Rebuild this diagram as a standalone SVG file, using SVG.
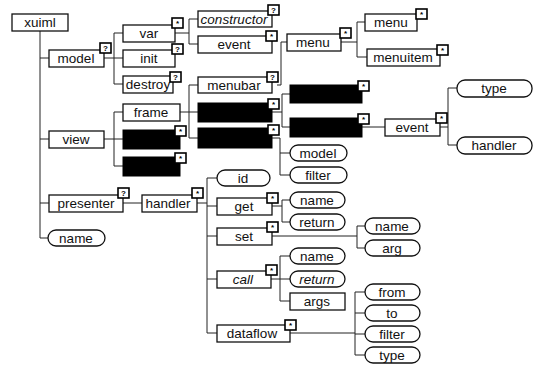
<svg xmlns="http://www.w3.org/2000/svg" width="534" height="372" viewBox="0 0 534 372">
<style>
.b{fill:#fff;stroke:#111;stroke-width:1.3}
.k{fill:#000;stroke:#000;stroke-width:1}
.t{font-family:"Liberation Sans",Arial,Helvetica,sans-serif;font-size:13.5px;fill:#111;text-anchor:middle}
.i{font-style:italic}
.bd{fill:#fff;stroke:#000;stroke-width:1.6}
.bt{font-family:"Liberation Sans",Arial,sans-serif;font-size:8px;font-weight:bold;fill:#000;text-anchor:middle}
.c{fill:none;stroke:#222;stroke-width:1}
</style>
<rect width="534" height="372" fill="#fff"/>
<g id="connectors" class="c">
<path d="M40 31V238M40 58H49M40 139H49M40 203H49M40 238H48"/>
<path d="M104 58H114M114 33V84M114 33H123M114 58H123M114 84H123"/>
<path d="M104 139H114M114 112V166M114 112H123M114 139H123M114 166H123"/>
<path d="M175 33H189M189 19V44M189 19H198M189 44H198"/>
<path d="M180 112H189M189 85V138M189 85H198M189 112H198M189 138H198"/>
<path d="M123 203H142"/>
<path d="M197 203H207M207 178V333M207 178H217M207 206H217M207 236H217M207 279H217M207 333H217"/>
<path d="M277 85H281V42H287"/>
<path d="M272 112H282M282 94V127M282 94H290M282 127H290"/>
<path d="M272 138H280V175H290M280 153H290"/>
<path d="M341 42H357M357 22V57M357 22H365M357 57H367"/>
<path d="M362 127H385"/>
<path d="M440 127H448M448 88V145M448 88H457M448 145H457"/>
<path d="M272 206H282M282 200V222M282 200H290M282 222H290"/>
<path d="M272 236H357M357 226V248M357 226H365M357 248H365"/>
<path d="M271 279H280M280 256V301M280 256H290M280 279H290M280 301H290"/>
<path d="M290 333H355M355 292V355M355 292H365M355 313H365M355 334H365M355 355H365"/>
</g>
<g id="xuiml"><rect class="b" x="12" y="14" width="56" height="17"/><text class="t" x="40" y="27">xuiml</text></g>
<g id="model"><rect class="b" x="49" y="50" width="55" height="17"/><text class="t" x="76" y="63">model</text><rect class="bd" x="100" y="43" width="11" height="10"/><text class="bt" x="105.5" y="51">?</text></g>
<g id="view"><rect class="b" x="49" y="131" width="55" height="17"/><text class="t" x="76" y="144">view</text></g>
<g id="presenter"><rect class="b" x="49" y="195" width="74" height="17"/><text class="t" x="86" y="208">presenter</text><rect class="bd" x="118" y="188" width="11" height="10"/><text class="bt" x="123.5" y="196">?</text></g>
<g id="name"><rect class="b" x="48" y="230" width="57" height="16" rx="8"/><text class="t" x="76" y="243">name</text></g>
<g id="var"><rect class="b" x="123" y="25" width="52" height="17"/><text class="t" x="149" y="38">var</text><rect class="bd" x="172" y="18" width="11" height="10"/><text class="bt" x="177.5" y="26">*</text></g>
<g id="init"><rect class="b" x="123" y="50" width="52" height="17"/><text class="t" x="149" y="63">init</text><rect class="bd" x="172" y="44" width="11" height="10"/><text class="bt" x="177.5" y="52">?</text></g>
<g id="destroy"><rect class="b" x="123" y="76" width="50" height="17"/><text class="t" x="148" y="89">destroy</text><rect class="bd" x="170" y="72" width="11" height="10"/><text class="bt" x="175.5" y="80">?</text></g>
<g id="frame"><rect class="b" x="123" y="104" width="57" height="17"/><text class="t" x="151" y="117">frame</text></g>
<g id="view-child-1"><rect class="k" x="123" y="130" width="57" height="19"/><rect class="bd" x="175" y="126" width="11" height="10"/><text class="bt" x="180.5" y="134">*</text></g>
<g id="view-child-2"><rect class="k" x="123" y="157" width="57" height="19"/><rect class="bd" x="175" y="153" width="11" height="10"/><text class="bt" x="180.5" y="161">*</text></g>
<g id="handler"><rect class="b" x="142" y="195" width="55" height="17"/><text class="t" x="168" y="208">handler</text><rect class="bd" x="192" y="188" width="11" height="10"/><text class="bt" x="197.5" y="196">*</text></g>
<g id="constructor"><rect class="b" x="198" y="11" width="74" height="16"/><text class="t i" x="234" y="24">constructor</text><rect class="bd" x="268" y="5" width="11" height="10"/><text class="bt" x="273.5" y="13">?</text></g>
<g id="event"><rect class="b" x="198" y="36" width="74" height="17"/><text class="t" x="234" y="49">event</text><rect class="bd" x="266" y="31" width="11" height="10"/><text class="bt" x="271.5" y="39">*</text></g>
<g id="menubar"><rect class="b" x="198" y="77" width="74" height="16"/><text class="t" x="234" y="90">menubar</text><rect class="bd" x="267" y="72" width="11" height="10"/><text class="bt" x="272.5" y="80">?</text></g>
<g id="frame-child-1"><rect class="k" x="198" y="103" width="74" height="19"/><rect class="bd" x="268" y="99" width="11" height="10"/><text class="bt" x="273.5" y="107">*</text></g>
<g id="frame-child-2"><rect class="k" x="198" y="128" width="74" height="20"/><rect class="bd" x="268" y="125" width="11" height="10"/><text class="bt" x="273.5" y="133">*</text></g>
<g id="menu"><rect class="b" x="287" y="34" width="54" height="17"/><text class="t" x="313" y="47">menu</text><rect class="bd" x="340" y="28" width="11" height="10"/><text class="bt" x="345.5" y="36">*</text></g>
<g id="hidden-child-1"><rect class="k" x="290" y="85" width="72" height="18"/><rect class="bd" x="358" y="81" width="11" height="10"/><text class="bt" x="363.5" y="89">*</text></g>
<g id="hidden-child-2"><rect class="k" x="290" y="118" width="72" height="19"/><rect class="bd" x="358" y="114" width="11" height="10"/><text class="bt" x="363.5" y="122">*</text></g>
<g id="model-attr"><rect class="b" x="290" y="145" width="57" height="16" rx="8"/><text class="t" x="318" y="158">model</text></g>
<g id="filter-attr"><rect class="b" x="290" y="167" width="57" height="16" rx="8"/><text class="t" x="318" y="180">filter</text></g>
<g id="menu-2"><rect class="b" x="365" y="14" width="52" height="17"/><text class="t" x="391" y="27">menu</text><rect class="bd" x="416" y="9" width="11" height="10"/><text class="bt" x="421.5" y="17">*</text></g>
<g id="menuitem"><rect class="b" x="367" y="49" width="73" height="17"/><text class="t" x="403" y="62">menuitem</text><rect class="bd" x="437" y="45" width="11" height="10"/><text class="bt" x="442.5" y="53">*</text></g>
<g id="event-2"><rect class="b" x="385" y="119" width="55" height="17"/><text class="t" x="412" y="132">event</text><rect class="bd" x="436" y="113" width="11" height="10"/><text class="bt" x="441.5" y="121">*</text></g>
<g id="type-attr"><rect class="b" x="457" y="80" width="75" height="17" rx="8"/><text class="t" x="494" y="93">type</text></g>
<g id="handler-attr"><rect class="b" x="457" y="137" width="75" height="17" rx="8"/><text class="t" x="494" y="150">handler</text></g>
<g id="id"><rect class="b" x="217" y="170" width="53" height="16" rx="8"/><text class="t" x="243" y="183">id</text></g>
<g id="get"><rect class="b" x="217" y="198" width="55" height="17"/><text class="t" x="244" y="211">get</text><rect class="bd" x="267" y="193" width="11" height="10"/><text class="bt" x="272.5" y="201">*</text></g>
<g id="set"><rect class="b" x="217" y="228" width="55" height="17"/><text class="t" x="244" y="241">set</text><rect class="bd" x="267" y="222" width="11" height="10"/><text class="bt" x="272.5" y="230">*</text></g>
<g id="call"><rect class="b" x="217" y="271" width="54" height="17"/><text class="t i" x="243" y="284">call</text><rect class="bd" x="266" y="265" width="11" height="10"/><text class="bt" x="271.5" y="273">*</text></g>
<g id="dataflow"><rect class="b" x="217" y="325" width="73" height="17"/><text class="t" x="252" y="338">dataflow</text><rect class="bd" x="285" y="320" width="11" height="10"/><text class="bt" x="290.5" y="328">*</text></g>
<g id="get-name"><rect class="b" x="290" y="192" width="55" height="16" rx="8"/><text class="t" x="317" y="205">name</text></g>
<g id="get-return"><rect class="b" x="290" y="214" width="55" height="16" rx="8"/><text class="t" x="317" y="227">return</text></g>
<g id="set-name"><rect class="b" x="365" y="218" width="55" height="16" rx="8"/><text class="t" x="392" y="231">name</text></g>
<g id="set-arg"><rect class="b" x="365" y="240" width="55" height="16" rx="8"/><text class="t" x="392" y="253">arg</text></g>
<g id="call-name"><rect class="b" x="290" y="248" width="55" height="16" rx="8"/><text class="t" x="317" y="261">name</text></g>
<g id="call-return"><rect class="b" x="290" y="271" width="55" height="16" rx="8"/><text class="t i" x="317" y="284">return</text></g>
<g id="call-args"><rect class="b" x="290" y="293" width="55" height="17"/><text class="t" x="317" y="306">args</text></g>
<g id="from"><rect class="b" x="365" y="284" width="55" height="16" rx="8"/><text class="t" x="392" y="297">from</text></g>
<g id="to"><rect class="b" x="365" y="305" width="55" height="16" rx="8"/><text class="t" x="392" y="318">to</text></g>
<g id="filter"><rect class="b" x="365" y="326" width="55" height="16" rx="8"/><text class="t" x="392" y="339">filter</text></g>
<g id="type"><rect class="b" x="365" y="347" width="55" height="16" rx="8"/><text class="t" x="392" y="360">type</text></g>
</svg>
